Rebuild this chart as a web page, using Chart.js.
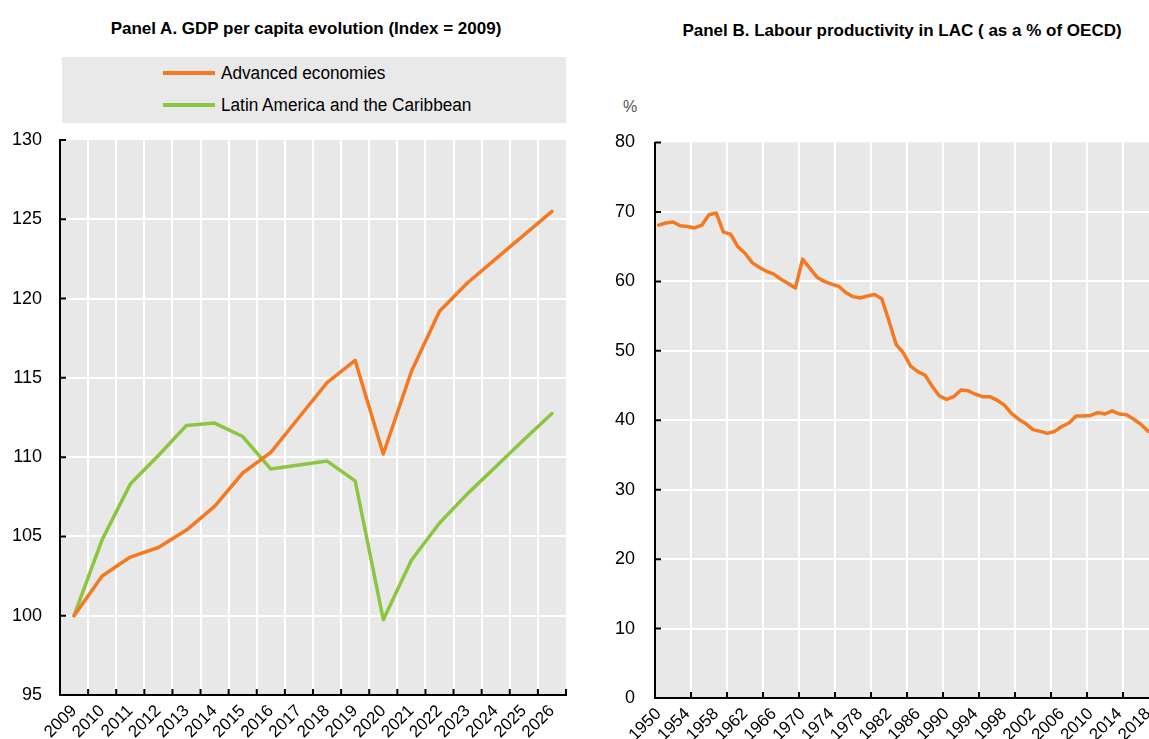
<!DOCTYPE html>
<html>
<head>
<meta charset="utf-8">
<script src="https://cdn.jsdelivr.net/npm/chart.js@4.4.1/dist/chart.umd.min.js"></script>
<style>
  html, body { margin: 0; padding: 0; background: #fff; width: 1149px; height: 739px; overflow: hidden; }
  body { position: relative; font-family: "Liberation Sans Narrow", "Arial Narrow", "Liberation Sans", sans-serif; color: #000; }
  .title { position: absolute; font-weight: bold; font-size: 17px; line-height: 17px; white-space: nowrap; transform: translateX(-50%); }
  .legend { position: absolute; left: 62px; top: 57px; width: 504px; height: 66px; background: #e9e9e9; }
  .swatch { position: absolute; left: 101px; width: 52px; height: 3.5px; }
  .label { position: absolute; left: 159px; font-size: 18px; line-height: 18px; white-space: nowrap; transform: scaleX(0.955); transform-origin: left center; }
  .unit { position: absolute; left: 623px; top: 99px; font-size: 16px; line-height: 16px; color: #555; }
  canvas { position: absolute; }
</style>
</head>
<body>

<div class="title" style="left:306px; top:20px;">Panel A. GDP per capita evolution (Index = 2009)</div>
<div class="legend">
  <div class="swatch" style="top:14px; background:#F47920;"></div>
  <div class="label" style="top:7px;">Advanced economies</div>
  <div class="swatch" style="top:46px; background:#8CC63F;"></div>
  <div class="label" style="top:39px;">Latin America and the Caribbean</div>
</div>
<canvas id="panelA" width="580" height="639" style="left:0; top:100px;"></canvas>

<div class="title" style="left:902px; top:22px;">Panel B. Labour productivity in LAC ( as a % of OECD)</div>
<div class="unit">%</div>
<canvas id="panelB" width="572" height="637" style="left:600px; top:102px;"></canvas>

<script>
// Panel A data (index, 2009 = 100)
const yearsA = ['2009', '2010', '2011', '2012', '2013', '2014', '2015', '2016', '2017',
    '2018', '2019', '2020', '2021', '2022', '2023', '2024', '2025', '2026'];
const advancedEconomies = [100, 102.5, 103.7, 104.3, 105.4, 106.9, 109.0, 110.3, 112.5,
    114.7, 116.1, 110.2, 115.4, 119.2, 121.0, 122.5, 124.0, 125.5];
const latinAmerica = [100, 104.8, 108.3, 110.1, 112.0, 112.15, 111.3, 109.25, 109.5,
    109.75, 108.5, 99.75, 103.5, 105.85, 107.7, 109.4, 111.1, 112.75];
const ticksA = [95, 100, 105, 110, 115, 120, 125, 130];

// Panel B data (LAC labour productivity, % of OECD)
const yearsB = ['1950', '1951', '1952', '1953', '1954', '1955', '1956', '1957', '1958', '1959',
    '1960', '1961', '1962', '1963', '1964', '1965', '1966', '1967', '1968', '1969',
    '1970', '1971', '1972', '1973', '1974', '1975', '1976', '1977', '1978', '1979',
    '1980', '1981', '1982', '1983', '1984', '1985', '1986', '1987', '1988', '1989',
    '1990', '1991', '1992', '1993', '1994', '1995', '1996', '1997', '1998', '1999',
    '2000', '2001', '2002', '2003', '2004', '2005', '2006', '2007', '2008', '2009',
    '2010', '2011', '2012', '2013', '2014', '2015', '2016', '2017', '2018'];
const productivity = [68.1, 68.4, 68.55, 68.0, 67.9, 67.7, 68.1, 69.6, 69.85, 67.1,
    66.8, 65.0, 64.05, 62.7, 62.0, 61.45, 61.05, 60.3, 59.7, 59.05,
    63.2, 61.9, 60.6, 60.0, 59.6, 59.3, 58.4, 57.8, 57.6, 57.9,
    58.1, 57.5, 54.3, 50.9, 49.7, 47.8, 47.0, 46.5, 44.9, 43.5,
    43.0, 43.4, 44.35, 44.25, 43.75, 43.4, 43.4, 42.9, 42.2, 41.0,
    40.15, 39.5, 38.65, 38.4, 38.1, 38.4, 39.1, 39.6, 40.6, 40.6,
    40.7, 41.1, 40.9, 41.35, 40.9, 40.8, 40.15, 39.4, 38.4];
const ticksB = [0, 10, 20, 30, 40, 50, 60, 70, 80];

const FONT = '"Liberation Sans Narrow", "Arial Narrow", "Liberation Sans", sans-serif';
const ORANGE = '#F47920';
const GREEN = '#8CC63F';
const PLOT_BG = '#e8e8e8';

// grey plot background
const plotBg = {
    id: 'plotBg',
    beforeDraw(chart) {
        const a = chart.chartArea;
        const ctx = chart.ctx;
        ctx.save();
        ctx.fillStyle = PLOT_BG;
        ctx.fillRect(a.left, a.top, a.right - a.left, a.bottom - a.top);
        ctx.restore();
    }
};

// short black tick marks drawn inside the plot
const innerTicks = {
    id: 'innerTicks',
    afterDraw(chart, args, opts) {
        const ctx = chart.ctx;
        const a = chart.chartArea;
        const xs = chart.scales.x;
        const ys = chart.scales.y;
        ctx.save();
        ctx.strokeStyle = '#000';
        ctx.lineWidth = 2;
        ctx.beginPath();
        ys.ticks.forEach(t => {
            const py = ys.getPixelForValue(t.value);
            ctx.moveTo(a.left, py);
            ctx.lineTo(a.left + 6, py);
        });
        const n = xs.ticks.length;
        for (let i = 0; i <= n; i += opts.every) {
            const px = xs.getPixelForValue(i - 0.5);
            ctx.moveTo(px, a.bottom);
            ctx.lineTo(px, a.bottom - 6);
        }
        ctx.stroke();
        ctx.restore();
    }
};

function buildChart(id, cfg) {
    const ctx = document.getElementById(id).getContext('2d');
    return new Chart(ctx, {
        type: 'line',
        data: { labels: cfg.labels, datasets: cfg.datasets },
        plugins: [plotBg, innerTicks],
        options: {
            responsive: false,
            animation: false,
            devicePixelRatio: 1,
            layout: { padding: cfg.padding },
            elements: {
                point: { radius: 0 },
                line: { tension: 0, borderWidth: 3.5, borderJoinStyle: 'round', borderCapStyle: 'round' }
            },
            plugins: {
                legend: { display: false },
                tooltip: { enabled: false },
                innerTicks: { every: cfg.gridEvery }
            },
            scales: {
                x: {
                    type: 'category',
                    offset: true,
                    afterFit: s => { s.height = cfg.xHeight; },
                    border: { display: true, color: '#000', width: 2 },
                    grid: {
                        offset: true,
                        drawTicks: false,
                        lineWidth: 2,
                        color: c => (c.index % cfg.gridEvery === 0 ? '#ffffff' : 'rgba(0,0,0,0)')
                    },
                    ticks: {
                        autoSkip: false,
                        maxRotation: 45,
                        minRotation: 45,
                        padding: 6,
                        color: '#000',
                        font: { family: FONT, size: 17 },
                        callback: (v, i) => (i % cfg.labelEvery === 0 ? cfg.labels[i] : '')
                    }
                },
                y: {
                    min: cfg.yTicks[0],
                    max: cfg.yTicks[cfg.yTicks.length - 1],
                    afterFit: s => { s.width = cfg.yWidth; },
                    afterBuildTicks: s => { s.ticks = cfg.yTicks.map(v => ({ value: v })); },
                    border: { display: true, color: '#000', width: 2 },
                    grid: {
                        drawTicks: false,
                        lineWidth: 2,
                        color: c => (c.tick && c.tick.value === cfg.yTicks[cfg.yTicks.length - 1] ? 'rgba(0,0,0,0)' : '#ffffff')
                    },
                    ticks: {
                        padding: cfg.yPad,
                        color: '#000',
                        font: { family: FONT, size: 18 }
                    }
                }
            }
        }
    });
}

buildChart('panelA', {
    labels: yearsA,
    datasets: [
        { label: 'Advanced economies', data: advancedEconomies, borderColor: ORANGE },
        { label: 'Latin America and the Caribbean', data: latinAmerica, borderColor: GREEN }
    ],
    yTicks: ticksA,
    padding: { left: 0, right: 14, top: 40, bottom: 0 },
    yWidth: 60,
    xHeight: 44,
    yPad: 18,
    gridEvery: 1,
    labelEvery: 1
});

// plot area runs a little past the right edge of the page, as in the source
buildChart('panelB', {
    labels: yearsB,
    datasets: [
        { label: 'Labour productivity in LAC', data: productivity, borderColor: ORANGE }
    ],
    yTicks: ticksB,
    padding: { left: 0, right: 20.2, top: 40.5, bottom: 0 },
    yWidth: 55,
    xHeight: 41,
    yPad: 20,
    gridEvery: 5,
    labelEvery: 4
});
</script>
</body>
</html>
